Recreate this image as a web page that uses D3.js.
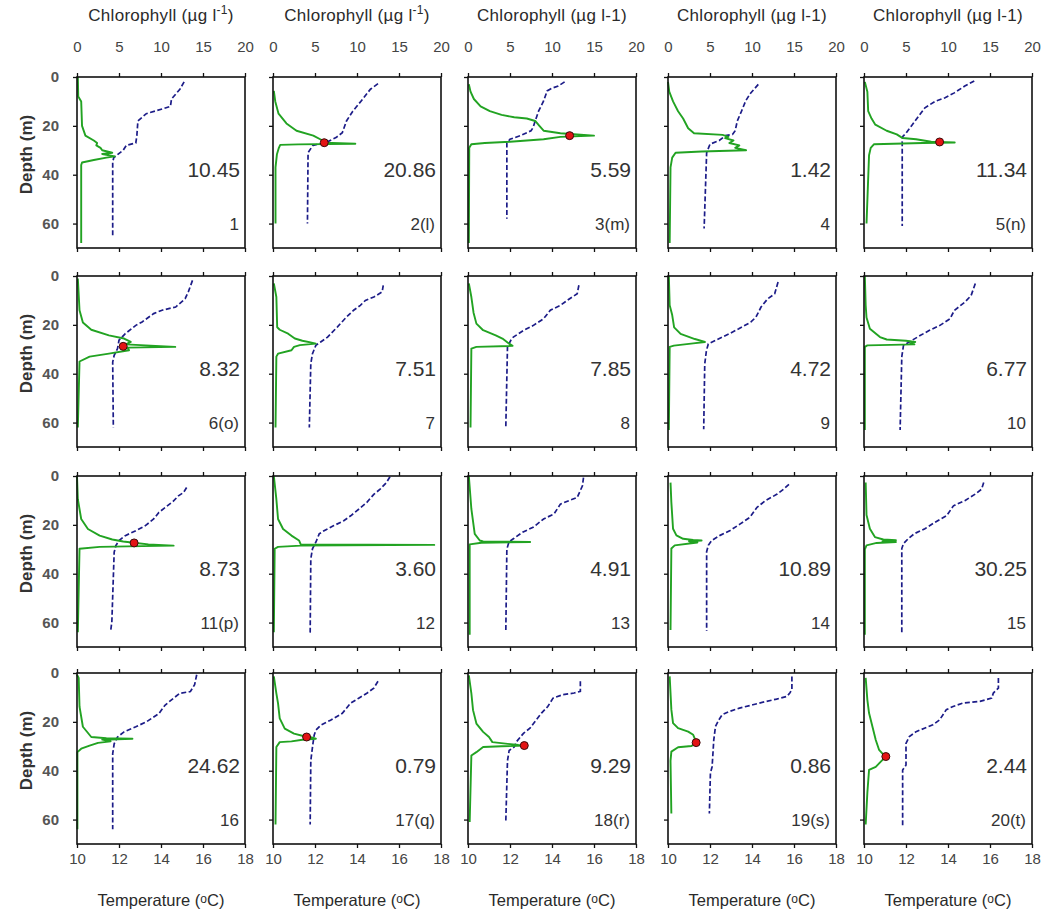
<!DOCTYPE html>
<html>
<head>
<meta charset="utf-8">
<script src="https://cdn.jsdelivr.net/npm/d3@7"></script>
<style>
  body { margin: 0; background: #fff; }
  text { font-family: Arial, "Liberation Sans", sans-serif; }
</style>
</head>
<body>
<svg id="chart" width="1058" height="918"></svg>
<script>
// Station annotations: chlorophyll-integrated value and station name
const stationValues = ["10.45","20.86","5.59","1.42","11.34","8.32","7.51","7.85","4.72","6.77",
                       "8.73","3.60","4.91","10.89","30.25","24.62","0.79","9.29","0.86","2.44"];
const stationNames = ["1","2(l)","3(m)","4","5(n)","6(o)","7","8","9","10",
                      "11(p)","12","13","14","15","16","17(q)","18(r)","19(s)","20(t)"];

// Axis ticks
const chlTicks = [0, 5, 10, 15, 20];
const tempTicks = [10, 12, 14, 16, 18];
const depthTicks = [0, 20, 40, 60];

// Chlorophyll profiles, [depth (m), chlorophyll (µg l-1)]
const chlProfiles = [
  [[0,0.1],[8,0.15],[10,0.5],[20,0.6],[24,1.0],[26,2.0],[27,2.4],[28,2.3],[29,2.8],[30,3.0],[31,4.2],[31.5,3.0],[32.5,4.5],[33,3.5],[34,2],[35,0.6],[36,0.5],[68,0.5]],
  [[5.7,0.1],[10,0.27],[15,0.66],[19,1.6],[22,2.8],[24,4.8],[26,5.9],[26.9,6.1],[27.3,9.8],[27.6,3],[27.8,0.86],[29,0.7],[31.6,0.47],[37,0.3],[60,0.3]],
  [[3,0.1],[6,0.3],[9,0.7],[12,1.5],[14,2.6],[15.5,4],[16.5,5.5],[17,7],[18,8],[20,8.5],[22,9],[23,11],[24,15],[24.5,11],[25.5,9],[26.5,5],[27,2],[27.5,0.4],[29,0.15],[68,0.1]],
  [[2,0.0],[6,0.15],[10,0.6],[14,1.2],[17,1.8],[21,2.4],[23,3.1],[23.7,6.5],[24.5,7.2],[25,6.8],[26,7.8],[27,7.3],[28,8.5],[29,8.0],[30,9.3],[30.5,4],[31,0.9],[33,0.5],[37,0.3],[68,0.2]],
  [[2,0.1],[6,0.4],[14,0.5],[17,0.9],[19.5,1.35],[22,2.7],[23.5,3.9],[25,4.6],[25.5,6.2],[26.5,8],[26.8,10.8],[27,7],[27.5,1.2],[29,0.8],[32,0.6],[46,0.45],[60,0.3]],
  [[1,0.1],[14,0.3],[19,0.7],[22,1.7],[24.3,3.8],[25.6,5.6],[27,6.4],[28,5.8],[29,11.7],[29.3,6],[30.4,6.2],[31.8,3.8],[33,1.5],[35,0.3],[62,0.1]],
  [[3,0.1],[8.6,0.4],[21,0.5],[22,0.8],[23.6,1.8],[25.6,2.6],[26.5,3.5],[27.3,4.6],[27.7,5.1],[28.3,3.2],[29,2.5],[30.4,2.2],[31.8,0.6],[33,0.4],[62,0.3]],
  [[3,0.1],[8.6,0.4],[15,0.66],[19.5,1.0],[22.2,1.8],[24.3,3.3],[25.6,4.1],[27.7,4.9],[28.6,5.3],[29,1.0],[29.7,0.4],[62,0.3]],
  [[0,0.1],[12,0.2],[16,0.5],[21,0.73],[23.7,1.5],[25.8,3.2],[27,4.4],[27.6,3],[28.5,0.7],[29,0.2],[63,0.1]],
  [[0,0.1],[12,0.2],[17,0.3],[21.6,0.7],[25,1.9],[26,2.7],[26.5,5],[27,6.1],[27.5,5.5],[28,6.0],[28.4,0.4],[29,0.1],[63,0.1]],
  [[0,0],[9.5,0.1],[17.6,0.5],[21.7,1.3],[24.4,2.7],[26,4.2],[26.8,5.5],[27.4,7],[28,8.5],[28.5,11.5],[28.8,6],[29,2.7],[29.8,0.3],[64,0.1]],
  [[0,0.1],[9.5,0.4],[17.6,0.6],[21.7,1.2],[24.4,2.2],[26.4,3.1],[28,3.3],[28.2,19.2],[28.5,3.3],[29,0.6],[29.8,0.2],[64,0.1]],
  [[0,0.1],[13.5,0.4],[23.7,0.8],[26.4,1.4],[26.8,1.8],[27,7.4],[27.3,1.6],[28,0.2],[65,0.2]],
  [[2.7,0.3],[10.8,0.4],[21.6,0.6],[24.3,1.0],[25.7,1.8],[26.2,3.0],[26.4,4.0],[26.7,2.5],[27.2,3.5],[28.4,0.8],[29.7,0.4],[63,0.3]],
  [[2.7,0.2],[16,0.3],[21.6,0.7],[25,1.3],[26,2.3],[26.3,3.8],[26.7,2.2],[27,3.8],[27.4,1.5],[28.4,0.3],[30,0.1],[65,0.1]],
  [[0.7,0],[2,0.2],[13.8,0.3],[22,0.7],[26.2,1.7],[26.7,3.5],[26.9,6.6],[27.3,3],[28,4],[28.6,2.5],[29.7,1.5],[31,0.5],[32.4,0.05],[64,0.05]],
  [[1.4,0.1],[8.3,0.4],[12.4,0.6],[18.6,0.8],[22.8,1.4],[24.8,2.5],[25.8,3.6],[26.4,4.6],[26.9,5.1],[27.3,3.5],[28,2.2],[28.3,0.8],[30.3,0.4],[62,0.3]],
  [[1,0.1],[8.3,0.4],[15.2,0.6],[20.7,1.0],[24.1,1.8],[26.2,2.5],[28.3,2.9],[29.5,6.0],[29.7,7.0],[30,4],[30.3,1.8],[32.4,1.0],[33.8,0.4],[61,0.2]],
  [[1.4,0.2],[15,0.4],[20.5,0.6],[22.6,1.2],[24,2.4],[25.3,3.0],[27,3.2],[28.5,3.4],[29.9,2.8],[30.4,1.2],[32.2,0.4],[36,0.3],[57.5,0.4]],
  [[2,0.2],[11,0.4],[16.4,0.6],[21.9,1.0],[27.4,1.4],[31.5,1.8],[33,2.2],[34.2,2.6],[36.3,2.0],[38.4,1.4],[39.7,0.6],[49,0.4],[62,0.2]]
];

// Temperature profiles, [depth (m), temperature (°C)]
const tempProfiles = [
  [[2,15.1],[5,14.9],[9,14.5],[12,14.45],[13,14.1],[15,13.3],[18,12.9],[24,12.85],[27,12.8],[28,12.35],[30,12.2],[32,11.9],[33,11.75],[35,11.7],[65,11.7]],
  [[2.7,15.0],[5,14.64],[9.8,14.2],[14,13.8],[18,13.5],[22.8,13.3],[24.8,13.0],[26.9,12.5],[28,11.9],[31,11.67],[60,11.64]],
  [[2,14.6],[3.7,14.3],[4.6,14.0],[5.7,13.77],[9.8,13.6],[14,13.36],[18,13.2],[20.7,13.1],[22,13.0],[24,12.5],[25.5,12.0],[27,11.85],[58,11.85]],
  [[3,14.3],[5,14.1],[7,13.9],[9.8,13.7],[14,13.5],[18,13.3],[22,13.2],[23.5,13.07],[24,12.74],[26,12.44],[27.5,12.0],[31,11.84],[62,11.72]],
  [[1.6,15.25],[3.7,14.8],[6.5,14.3],[8.5,13.86],[9.9,13.4],[12.6,12.9],[16,12.6],[19.5,12.3],[23,12.0],[24.3,11.85],[26.4,11.82],[61,11.82]],
  [[1.8,15.5],[6.5,15.3],[9.3,15.15],[12.7,14.7],[14,14.05],[15.4,13.65],[18.8,13.1],[20.2,12.8],[23.6,12.3],[26.3,12.0],[29.7,11.93],[32.5,11.77],[35.2,11.7],[62,11.73]],
  [[3.8,15.25],[6.5,15.2],[8.6,14.8],[10,14.4],[12,14.16],[14,13.84],[16.8,13.5],[20.9,13.06],[25,12.6],[27,12.27],[28.4,12.04],[31.8,11.88],[35.9,11.8],[62,11.73]],
  [[3.8,15.28],[7.3,15.2],[8.6,14.96],[10,14.72],[12,14.4],[14,13.92],[17.5,13.6],[20.3,13.1],[22.3,12.64],[25,12.16],[26.3,12.04],[29,11.88],[62,11.8]],
  [[2.5,15.24],[7.3,15.08],[9.3,14.75],[12.7,14.43],[16.8,14.19],[18.9,13.94],[21.6,13.37],[23.7,12.9],[25.8,12.4],[27.8,11.92],[30.5,11.83],[36,11.75],[62.7,11.7]],
  [[3.1,15.3],[8,15.1],[10.7,14.8],[14.1,14.3],[17.5,14.1],[20.3,13.6],[22.3,13.1],[24.4,12.67],[26.4,12.27],[28.5,11.88],[33,11.8],[63,11.72]],
  [[4.7,15.22],[6.8,15.07],[8.1,14.83],[10.2,14.6],[12.9,14.2],[14.9,13.9],[17.6,13.65],[20.3,13.26],[22.4,12.8],[24.4,12.3],[26.4,12.0],[28.5,11.85],[31.2,11.77],[59.6,11.66],[63.7,11.6]],
  [[0.3,15.57],[2.7,15.4],[5.4,15.1],[7.5,14.8],[10.8,14.47],[14.2,14.0],[16.3,13.7],[18.3,13.37],[20.3,12.9],[22.4,12.43],[23.7,12.2],[27.1,12.04],[29.8,11.88],[33.9,11.8],[64.4,11.77]],
  [[0.7,15.5],[4,15.45],[8.8,15.2],[10.1,14.8],[11.5,14.4],[15.5,14.1],[17.6,13.6],[21,13.1],[23,12.6],[25.7,12.16],[27,11.95],[30,11.85],[64,11.8]],
  [[3.4,15.76],[5.4,15.5],[7.4,15.2],[10.1,14.64],[12.8,14.24],[16.9,13.9],[19.6,13.44],[22.3,12.96],[24.3,12.48],[26.4,12.08],[28.4,11.92],[31,11.84],[63.5,11.84]],
  [[2.7,15.7],[5.4,15.6],[7.4,15.3],[10.1,14.8],[12.2,14.26],[16.2,13.94],[18.9,13.39],[21.6,12.9],[23.6,12.4],[25.7,12.1],[27.7,11.88],[29.7,11.8],[64,11.8]],
  [[0.7,15.7],[4.8,15.6],[7.6,15.4],[8.3,14.9],[10.3,14.6],[13.1,14.2],[16.6,13.9],[20,13.3],[22,12.8],[24.1,12.24],[26.2,11.93],[29,11.77],[33,11.7],[64,11.7]],
  [[3.4,15.0],[6.2,14.8],[8.3,14.47],[10.3,14.08],[12.4,13.69],[16.5,13.3],[19.3,12.74],[21.4,12.27],[23.4,12.04],[25.5,11.96],[30.3,11.88],[35.9,11.8],[62,11.77]],
  [[3.4,15.35],[7.5,15.35],[8.2,15.05],[8.9,14.5],[10.3,14.05],[13.7,13.8],[16.4,13.5],[19.2,13.25],[22.6,12.95],[24.7,12.64],[28,12.32],[30.3,12.2],[31.7,11.96],[35.9,11.88],[60.7,11.8]],
  [[1.4,15.9],[6.8,15.9],[8.2,15.8],[9.6,15.66],[10.7,15.17],[11.6,14.69],[13,14.04],[14.4,13.4],[15.8,12.9],[17.1,12.58],[19.2,12.42],[21.9,12.26],[27.4,12.18],[38.4,12.1],[41,12.02],[57.5,11.97]],
  [[2,16.4],[6.2,16.4],[8.2,16.16],[10.3,16.08],[11.6,15.52],[12.3,14.72],[13.7,14.24],[15,13.92],[19.2,13.6],[21.2,13.28],[22.6,12.88],[24,12.48],[26,12.16],[28.8,12.0],[37.7,12.0],[39.7,11.84],[62.3,11.84]]
];

// Sampling points marked on the chlorophyll maximum: [station index, depth (m), chlorophyll]
const sampleMarks = [
  [1, 26.9, 6.1], [2, 24, 12.1], [4, 26.6, 9.0], [5, 28.8, 5.5], [10, 27.4, 6.8],
  [16, 26.2, 4.0], [17, 29.7, 6.7], [18, 28.5, 3.35], [19, 34.2, 2.6]
];

// Layout of the 4 x 5 panel grid
const colLeft = [77, 273, 468, 668, 864];
const rowTop = [77, 276, 476, 673];
const W = 168, H = 171;
const GREEN = "#22a322", NAVY = "#1c1c88", INK = "#333";
const FONT = 'Arial, "Liberation Sans", sans-serif';

const svg = d3.select("#chart");
svg.append("rect").attr("width", 1058).attr("height", 918).attr("fill", "#fff");

const y = d3.scaleLinear().domain([0, 70]).range([0, H]);
const xChl = d3.scaleLinear().domain([0, 20]).range([0, W]);
const xTemp = d3.scaleLinear().domain([10, 18]).range([0, W]);

const chlLine = d3.line().x(d => xChl(d[1])).y(d => y(d[0]));
const tempLine = d3.line().x(d => xTemp(d[1])).y(d => y(d[0]));

function styleAxis(g, size, weight, fill) {
  g.select(".domain").remove();
  g.selectAll(".tick line").attr("stroke", "#111").attr("stroke-width", 1.3);
  g.selectAll(".tick text").attr("font-size", size).attr("font-weight", weight)
    .attr("fill", fill).attr("font-family", FONT);
}

stationValues.forEach((val, i) => {
  const r = Math.floor(i / 5), c = i % 5;
  const g = svg.append("g").attr("transform", `translate(${colLeft[c]},${rowTop[r]})`);

  // temperature profile (dashed)
  g.append("path").datum(tempProfiles[i])
    .attr("d", tempLine).attr("fill", "none")
    .attr("stroke", NAVY).attr("stroke-width", 1.7)
    .attr("stroke-dasharray", "5,2.5");

  // chlorophyll profile
  g.append("path").datum(chlProfiles[i])
    .attr("d", chlLine).attr("fill", "none")
    .attr("stroke", GREEN).attr("stroke-width", 1.9)
    .attr("stroke-linejoin", "round");

  // sample marks
  sampleMarks.filter(m => m[0] === i).forEach(m => {
    g.append("circle").attr("cx", xChl(m[2])).attr("cy", y(m[1])).attr("r", 4)
      .attr("fill", "#e31414").attr("stroke", "#3b0a0a").attr("stroke-width", 1);
  });

  // annotations
  g.append("text").attr("x", W - 5).attr("y", 100).attr("text-anchor", "end")
    .attr("font-size", 21).attr("fill", INK).text(val);
  g.append("text").attr("x", W - 6).attr("y", 153).attr("text-anchor", "end")
    .attr("font-size", 17).attr("fill", INK).text(stationNames[i]);

  // axes
  const top = g.append("g").call(d3.axisTop(xChl).tickValues(chlTicks).tickSize(4).tickSizeOuter(0).tickPadding(21)
    .tickFormat(r === 0 ? d3.format("d") : () => ""));
  styleAxis(top, 15, "normal", "#444");
  const bottom = g.append("g").attr("transform", `translate(0,${H})`)
    .call(d3.axisBottom(xTemp).tickValues(tempTicks).tickSize(4).tickSizeOuter(0).tickPadding(5)
      .tickFormat(r === 3 ? d3.format("d") : () => ""));
  styleAxis(bottom, 15, "normal", "#444");
  const left = g.append("g").call(d3.axisLeft(y).tickValues(depthTicks).tickSize(4).tickSizeOuter(0).tickPadding(14)
    .tickFormat(c === 0 ? d3.format("d") : () => ""));
  styleAxis(left, 15, "bold", "#555");

  // frame
  g.append("rect").attr("width", W).attr("height", H)
    .attr("fill", "none").attr("stroke", "#111").attr("stroke-width", 1.6);
});

// column titles
colLeft.forEach((x0, c) => {
  const t = svg.append("text").attr("x", x0 + W / 2).attr("y", 21).attr("text-anchor", "middle")
    .attr("font-size", 17).attr("letter-spacing", 0.3).attr("fill", "#2a2a2a");
  if (c < 2) {
    t.append("tspan").text("Chlorophyll (µg l");
    t.append("tspan").attr("font-size", 12).attr("dy", -7).text("-1");
    t.append("tspan").attr("dy", 7).text(")");
  } else {
    t.text("Chlorophyll (µg l-1)");
  }
  const b = svg.append("text").attr("x", x0 + W / 2).attr("y", 906).attr("text-anchor", "middle")
    .attr("font-size", 16.5).attr("fill", "#2a2a2a");
  b.append("tspan").text("Temperature (");
  b.append("tspan").attr("font-size", 12).attr("dy", -3).text("o");
  b.append("tspan").attr("dy", 3).text("C)");
});

// depth labels
rowTop.forEach(t0 => {
  svg.append("text").attr("transform", `translate(32,${t0 + H / 2 - 8}) rotate(-90)`)
    .attr("text-anchor", "middle").attr("font-size", 17).attr("font-weight", "bold")
    .attr("fill", "#333").text("Depth (m)");
});
</script>
</body>
</html>
